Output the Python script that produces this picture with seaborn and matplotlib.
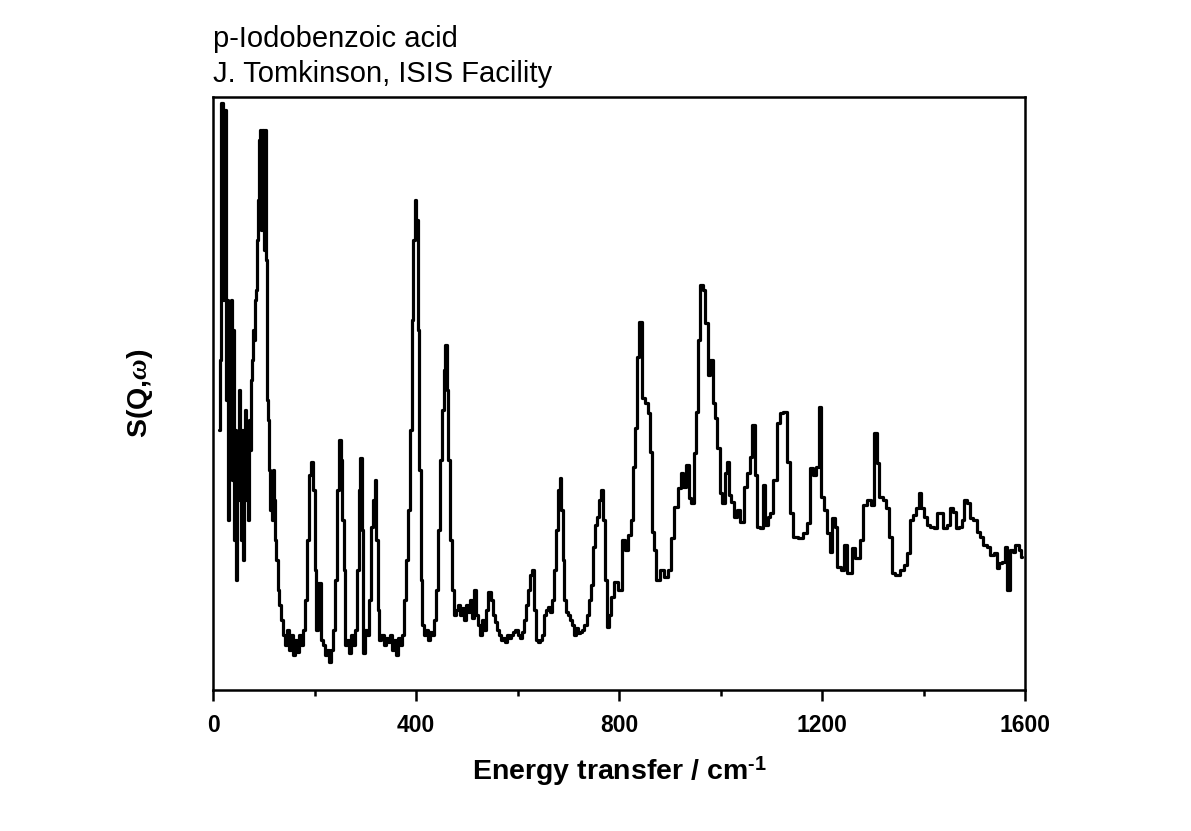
import numpy as np
import pandas as pd
import matplotlib
matplotlib.use('Agg')
import matplotlib.pyplot as plt
import seaborn as sns

# INS spectrum (energy in cm-1, intensity in arbitrary units)
energy = [
    12, 14, 18, 20, 22, 24, 26, 28, 30, 32, 34, 36, 38, 40, 42, 44, 46, 48, 50, 52,
    54, 56, 58, 60, 62, 64, 66, 68, 70, 72, 74, 76, 78, 80, 82, 84, 86, 88, 90, 92,
    94, 96, 98, 100, 102, 104, 106, 108, 110, 112, 114, 116, 118, 120, 122, 124, 126, 130,
    132, 136, 140, 144, 148, 152, 156, 160, 164, 168, 172, 176, 180, 184, 188, 192, 195, 198,
    202, 205, 208, 211, 214, 218, 222, 226, 230, 234, 238, 242, 246, 250, 253, 256, 259, 262,
    266, 270, 274, 278, 282, 286, 289, 292, 295, 298, 302, 306, 310, 314, 317, 320, 323, 326,
    330, 334, 338, 342, 346, 350, 354, 358, 362, 366, 370, 374, 378, 382, 386, 390, 393, 396,
    399, 402, 405, 408, 411, 414, 418, 422, 426, 430, 434, 438, 442, 446, 450, 453, 456, 459,
    462, 465, 468, 472, 476, 480, 484, 488, 492, 496, 500, 504, 508, 512, 516, 520, 524, 528,
    532, 536, 540, 545, 550, 554, 558, 562, 566, 570, 574, 578, 582, 586, 590, 594, 598, 602,
    606, 610, 614, 618, 622, 626, 630, 634, 638, 642, 646, 650, 654, 658, 662, 666, 670, 674,
    678, 682, 685, 688, 691, 694, 698, 702, 706, 710, 714, 718, 722, 726, 730, 734, 738, 742,
    746, 750, 754, 758, 762, 766, 770, 774, 778, 782, 786, 794, 802, 808, 815, 822, 827, 830,
    833, 837, 843, 849, 855, 860, 864, 868, 871, 876, 885, 894, 899, 905, 912, 919, 924, 929,
    935, 939, 945, 951, 954, 958, 963, 968, 972, 977, 983, 988, 992, 996, 1001, 1006, 1010, 1014,
    1019, 1023, 1029, 1035, 1043, 1050, 1055, 1061, 1065, 1069, 1074, 1080, 1086, 1090, 1096, 1101,
    1107, 1114, 1120, 1127, 1134, 1140, 1147, 1157, 1167, 1172, 1179, 1186, 1191, 1196, 1200, 1206,
    1212, 1218, 1223, 1228, 1233, 1240, 1247, 1253, 1257, 1262, 1270, 1278, 1285, 1293, 1300, 1305,
    1310, 1316, 1323, 1329, 1335, 1341, 1348, 1358, 1364, 1370, 1377, 1383, 1389, 1394, 1398, 1402,
    1410, 1417, 1423, 1429, 1436, 1442, 1449, 1455, 1462, 1466, 1472, 1478, 1483, 1488, 1495, 1501,
    1508, 1514, 1521, 1528, 1535, 1542, 1547, 1551, 1557, 1563, 1568, 1573, 1578, 1584, 1591, 1595,
]
intensity = [
    260, 330, 587, 390, 580, 580, 290, 390, 170, 360, 240, 390, 210, 360, 150, 260, 110, 230, 190, 300,
    210, 150, 260, 130, 220, 280, 190, 250, 170, 270, 240, 310, 330, 360, 350, 390, 400, 450, 490, 550,
    560, 460, 560, 560, 440, 560, 430, 290, 270, 220, 180, 200, 170, 220, 190, 150, 130, 100,
    85, 70, 55, 45, 60, 40, 55, 35, 50, 38, 55, 45, 60, 90, 150, 215, 228, 200,
    120, 60, 107, 107, 50, 45, 35, 40, 28, 40, 60, 110, 200, 250, 230, 170, 120, 45,
    50, 37, 55, 45, 60, 120, 200, 232, 160, 37, 60, 55, 90, 163, 190, 210, 150, 80,
    50, 55, 45, 52, 48, 55, 40, 50, 35, 52, 45, 55, 90, 130, 180, 260, 370, 450,
    490, 470, 360, 220, 110, 65, 55, 60, 50, 58, 55, 70, 100, 160, 230, 280, 320, 345,
    300, 230, 150, 100, 75, 80, 85, 75, 82, 70, 85, 78, 90, 72, 100, 75, 65, 55,
    70, 60, 80, 98, 90, 75, 68, 60, 55, 50, 52, 48, 55, 52, 55, 58, 60, 55,
    52, 58, 70, 85, 100, 115, 120, 80, 50, 48, 50, 55, 75, 80, 83, 78, 90, 120,
    160, 200, 212, 180, 130, 90, 78, 75, 70, 65, 55, 62, 57, 58, 60, 65, 75, 90,
    105, 143, 165, 173, 190, 200, 170, 110, 63, 75, 93, 108, 100, 150, 140, 155, 170, 223,
    262, 333, 368, 292, 287, 277, 238, 158, 140, 110, 120, 113, 120, 152, 183, 202, 217, 203,
    225, 192, 187, 237, 278, 350, 405, 400, 367, 315, 330, 287, 272, 242, 197, 187, 217, 228,
    195, 188, 173, 180, 168, 203, 217, 233, 265, 215, 163, 162, 205, 165, 173, 177,
    210, 267, 277, 278, 228, 177, 153, 152, 157, 167, 222, 215, 223, 283, 193, 180,
    157, 138, 172, 163, 123, 120, 145, 117, 117, 142, 132, 150, 185, 190, 185, 257,
    227, 193, 190, 182, 153, 117, 115, 120, 125, 137, 170, 175, 182, 197, 182, 173,
    165, 163, 162, 177, 177, 162, 165, 182, 178, 162, 163, 170, 190, 187, 172, 170,
    158, 153, 145, 143, 135, 137, 122, 127, 128, 143, 100, 140, 138, 145, 140, 133,
]

title_lines = ["p-Iodobenzoic acid", "J. Tomkinson, ISIS Facility"]
x_major = [0, 400, 800, 1200, 1600]
x_minor = [200, 600, 1000, 1400]

df = pd.DataFrame({"energy": energy, "intensity": intensity})

sns.set_style("white")
plt.rcParams['font.family'] = ['Liberation Sans', 'DejaVu Sans']
plt.rcParams['text.color'] = 'black'
plt.rcParams['axes.labelcolor'] = 'black'
plt.rcParams['xtick.color'] = 'black'
plt.rcParams['mathtext.fontset'] = 'custom'
plt.rcParams['mathtext.rm'] = 'Liberation Sans:bold'
plt.rcParams['mathtext.it'] = 'Liberation Serif:italic:bold'

fig = plt.figure(figsize=(11.91, 8.31), dpi=100)
ax = fig.add_axes([213 / 1191, 1 - 690 / 831, 812 / 1191, 593 / 831])

sns.lineplot(data=df, x="energy", y="intensity", ax=ax, color="black",
             linewidth=2.3, drawstyle="steps-mid", estimator=None, sort=False)

ax.set_xlim(0, 1600)
ax.set_ylim(0, 593)
ax.set_xticks(x_major)
ax.set_xticks(x_minor, minor=True)
ax.set_yticks([])
ax.tick_params(axis='x', which='major', direction='out', length=8, width=1.8,
               labelsize=16.5, pad=9, bottom=True)
ax.tick_params(axis='x', which='minor', direction='out', length=4.5, width=1.8, bottom=True)
for lab in ax.get_xticklabels():
    lab.set_fontweight('bold')
for sp in ax.spines.values():
    sp.set_linewidth(1.8)
    sp.set_color('black')

ax.set_xlabel("Energy transfer / cm$^{\\text{-1}}$", fontsize=20.5, fontweight='bold', labelpad=13)
ax.set_ylabel("S(Q,$\\mathit{\\omega}$)", fontsize=20.5, fontweight='bold')
ax.yaxis.set_label_coords(-0.072, 0.5)

fig.text(213 / 1191, 1 - 47 / 831, title_lines[0], fontsize=21, va='baseline', ha='left')
fig.text(213 / 1191, 1 - 82 / 831, title_lines[1], fontsize=21, va='baseline', ha='left')

fig.savefig("out.png", dpi=100)
